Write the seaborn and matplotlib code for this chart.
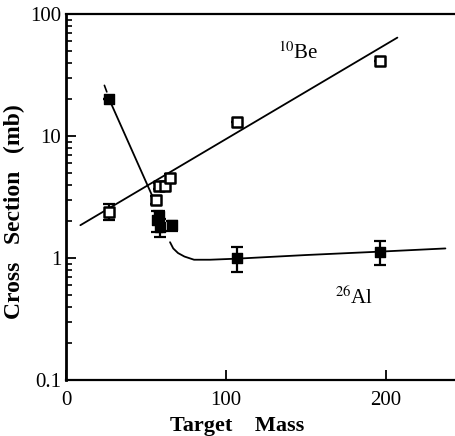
import pandas as pd
import matplotlib
matplotlib.use("Agg")
import matplotlib.pyplot as plt
import matplotlib.ticker as mticker
import seaborn as sns

# 26Al points (filled squares)
al_mass = [27, 57, 58, 59, 66, 107, 196]
al_xs = [20, 2.05, 2.2, 1.8, 1.85, 1.0, 1.12]
al_err = [0.0, 0.4, 0.25, 0.3, 0.18, 0.23, 0.25]

# 10Be points (open squares)
be_mass = [27, 56, 58, 62, 65, 107, 196]
be_xs = [2.4, 3.0, 3.9, 3.9, 4.5, 13, 41]
be_err = [0.35, 0.25, 0.25, 0.3, 0.35, 0.0, 0.0]

# curves
be_fit_mass = [9, 207]
be_fit_xs = [1.86, 64]
al_steep_mass = [27, 55]
al_steep_xs = [20, 3.0]
al_dash_mass = [24, 25.5]
al_dash_xs = [26, 23]
al_curve_mass = [65, 67, 70, 74, 80, 90, 107, 150, 196, 237]
al_curve_xs = [1.35, 1.2, 1.1, 1.03, 0.97, 0.97, 0.99, 1.06, 1.13, 1.2]

sns.set_style("ticks")
plt.rcParams["font.family"] = ["Liberation Serif", "DejaVu Serif"]
plt.rcParams["mathtext.fontset"] = "stix"
plt.rcParams["text.color"] = "black"
plt.rcParams["axes.labelcolor"] = "black"

fig = plt.figure(figsize=(4.55, 4.36), dpi=100)
ax = fig.add_axes([0.145, 0.128, 0.855, 0.84])

al = pd.DataFrame({"mass": al_mass, "xs": al_xs, "err": al_err})
be = pd.DataFrame({"mass": be_mass, "xs": be_xs, "err": be_err})

# lines
sns.lineplot(x=be_fit_mass, y=be_fit_xs, color="black", lw=1.3, ax=ax)
sns.lineplot(x=al_steep_mass, y=al_steep_xs, color="black", lw=1.3, ax=ax)
sns.lineplot(x=al_curve_mass, y=al_curve_xs, color="black", lw=1.3, ax=ax)
ax.plot(al_dash_mass, al_dash_xs, color="black", lw=1.2)

# error bars
ax.errorbar(al["mass"], al["xs"], yerr=al["err"], fmt="none", ecolor="black",
            elinewidth=1.6, capsize=4, capthick=1.6)
ax.errorbar(be["mass"], be["xs"], yerr=be["err"], fmt="none", ecolor="black",
            elinewidth=1.6, capsize=4, capthick=1.6)

# markers
sns.scatterplot(data=al, x="mass", y="xs", marker="s", s=60, color="black",
                edgecolor="black", linewidth=1, ax=ax, zorder=5)
sns.scatterplot(data=be, x="mass", y="xs", marker="s", s=45, color="white",
                edgecolor="black", linewidth=1.8, ax=ax, zorder=5)

ax.text(145, 48, r"$^{10}$Be", fontsize=15, ha="center", va="center", color="black")
ax.text(180, 0.47, r"$^{26}$Al", fontsize=15, ha="center", va="center", color="black")

ax.set_yscale("log")
ax.set_xlim(0, 243)
ax.set_ylim(0.1, 100)
ax.set_xticks([0, 100, 200])
ax.yaxis.set_major_formatter(mticker.FuncFormatter(lambda v, p: f"{v:g}"))
ax.tick_params(axis="both", which="major", direction="in", length=7, width=1.3,
               labelsize=15, colors="black")
ax.tick_params(axis="y", which="minor", direction="in", length=4, width=1.2,
               colors="black")
ax.tick_params(axis="x", which="major", pad=8)

ax.set_xlabel("Target    Mass", fontsize=16, fontweight="bold", color="black")
ax.set_ylabel("Cross   Section   (mb)", fontsize=17, fontweight="bold", color="black")
ax.xaxis.set_label_coords(0.44, -0.097)
ax.yaxis.set_label_coords(-0.105, 0.46)

ax.spines["right"].set_visible(False)
ax.spines["left"].set_linewidth(2)
ax.spines["bottom"].set_linewidth(1.6)
ax.spines["top"].set_linewidth(1.6)
for s in ax.spines.values():
    s.set_color("black")

fig.savefig("out.png", dpi=100)
